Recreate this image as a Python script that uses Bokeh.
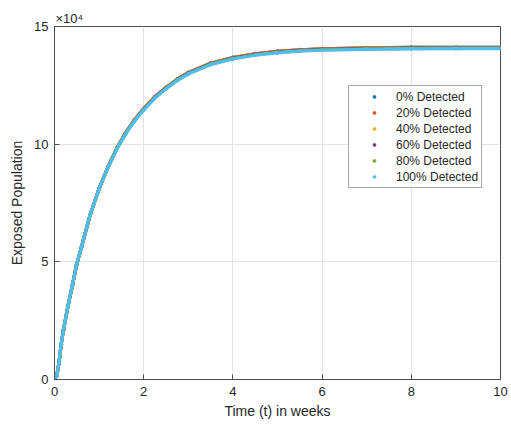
from bokeh.plotting import figure
from bokeh.models import Range1d, FixedTicker, Legend, LegendItem
from bokeh.embed import file_html
from bokeh.resources import INLINE

# time (weeks)
t_weeks = [0, 0.05, 0.1, 0.15, 0.2, 0.3, 0.4, 0.5, 0.6, 0.8, 1.0, 1.2, 1.4, 1.6, 1.8,
           2.0, 2.25, 2.5, 2.75, 3.0, 3.5, 4.0, 4.5, 5.0, 5.5, 6.0, 7.0, 8.0, 9.0, 10.0]

# exposed population, in units of 10^4
exp_0 = [0, 0.15, 0.7, 1.5, 2.1, 3.1, 4.0, 4.9, 5.6, 7.0, 8.12, 9.03, 9.84, 10.5, 11.05,
         11.51, 12.01, 12.41, 12.76, 13.04, 13.44, 13.68, 13.84, 13.94, 14.01, 14.05,
         14.09, 14.11, 14.11, 14.11]
exp_20 = [0, 0.15, 0.7, 1.5, 2.1, 3.1, 4.0, 4.9, 5.6, 7.0, 8.12, 9.03, 9.84, 10.5, 11.05,
          11.51, 12.01, 12.41, 12.76, 13.04, 13.44, 13.68, 13.84, 13.94, 14.01, 14.05,
          14.09, 14.11, 14.11, 14.11]
exp_40 = [0, 0.15, 0.7, 1.5, 2.1, 3.1, 4.0, 4.9, 5.6, 7.0, 8.12, 9.02, 9.83, 10.49, 11.04,
          11.5, 12.0, 12.4, 12.75, 13.03, 13.43, 13.67, 13.83, 13.93, 14.0, 14.04,
          14.08, 14.1, 14.1, 14.1]
exp_60 = [0, 0.15, 0.7, 1.5, 2.1, 3.1, 4.0, 4.9, 5.6, 7.0, 8.11, 9.02, 9.82, 10.48, 11.03,
          11.49, 11.99, 12.39, 12.74, 13.02, 13.42, 13.66, 13.82, 13.92, 13.99, 14.03,
          14.07, 14.09, 14.09, 14.09]
exp_80 = [0, 0.15, 0.7, 1.5, 2.1, 3.1, 4.0, 4.9, 5.6, 7.0, 8.11, 9.01, 9.81, 10.46, 11.01,
          11.47, 11.97, 12.37, 12.72, 13.0, 13.4, 13.64, 13.8, 13.9, 13.97, 14.01,
          14.05, 14.07, 14.08, 14.08]
exp_100 = [0, 0.15, 0.7, 1.5, 2.1, 3.1, 4.0, 4.9, 5.6, 7.0, 8.1, 9.0, 9.8, 10.45, 11.0,
           11.45, 11.95, 12.35, 12.7, 12.98, 13.38, 13.62, 13.78, 13.88, 13.95, 13.99,
           14.03, 14.05, 14.06, 14.06]

series_labels = ["0% Detected", "20% Detected", "40% Detected",
                 "60% Detected", "80% Detected", "100% Detected"]
series_values = [exp_0, exp_20, exp_40, exp_60, exp_80, exp_100]
series_colors = ["#0072BD", "#D95319", "#EDB120", "#7E2F8E", "#77AC30", "#4DBEEE"]

x_ticks = [0, 2, 4, 6, 8, 10]
y_ticks = [0, 5, 10, 15]

FONT = "Liberation Sans"
TXT = "#262626"

p = figure(width=508, height=424, output_backend="svg", toolbar_location=None,
           x_range=Range1d(0, 10), y_range=Range1d(0, 15),
           min_border_left=54, min_border_right=8, min_border_top=26, min_border_bottom=45)
p.background_fill_color = "white"
p.border_fill_color = "white"
p.outline_line_color = "#4d4d4d"
p.outline_line_width = 1

p.title.text = "\u00d710\u2074"
p.title.align = "left"
p.title.offset = 1
p.title.standoff = 2
p.title.text_font = FONT
p.title.text_font_size = "13px"
p.title.text_font_style = "normal"
p.title.text_color = TXT

for ax in (p.xaxis[0], p.yaxis[0]):
    ax.axis_line_color = "#4d4d4d"
    ax.major_tick_line_color = "#4d4d4d"
    ax.major_tick_in = 5
    ax.major_tick_out = 0
    ax.minor_tick_line_color = None
    ax.major_label_text_font = FONT
    ax.major_label_text_font_size = "13px"
    ax.major_label_text_color = TXT
    ax.axis_label_text_font = FONT
    ax.axis_label_text_font_size = "14px"
    ax.axis_label_text_font_style = "normal"
    ax.axis_label_text_color = TXT

p.xaxis.ticker = FixedTicker(ticks=x_ticks)
p.yaxis.ticker = FixedTicker(ticks=y_ticks)
p.xaxis.axis_label = "Time (t) in weeks"
p.yaxis.axis_label = "Exposed Population"
p.xaxis.major_label_standoff = 7
p.yaxis.major_label_standoff = 6
p.xaxis.axis_label_standoff = 4
p.yaxis.axis_label_standoff = 6

p.xgrid.ticker = FixedTicker(ticks=x_ticks)
p.ygrid.ticker = FixedTicker(ticks=y_ticks)
p.grid.grid_line_color = "#e3e3e3"
p.grid.grid_line_width = 1

items = []
for lab, vals, col in zip(series_labels, series_values, series_colors):
    p.line(t_weeks, vals, line_color=col, line_width=3.2)
    r = p.scatter(t_weeks, vals, size=3, color=col)
    items.append(LegendItem(label=lab, renderers=[r]))

legend = Legend(items=items, location=(294, 191),
                label_text_font=FONT, label_text_font_size="12px",
                label_text_color=TXT, label_standoff=0,
                glyph_width=44, glyph_height=7, label_height=15,
                spacing=1, padding=3, margin=0,
                border_line_color="#555555", border_line_width=1,
                background_fill_color="white", background_fill_alpha=1)
p.add_layout(legend, "center")

open("out.html", "w").write(file_html(p, INLINE))
